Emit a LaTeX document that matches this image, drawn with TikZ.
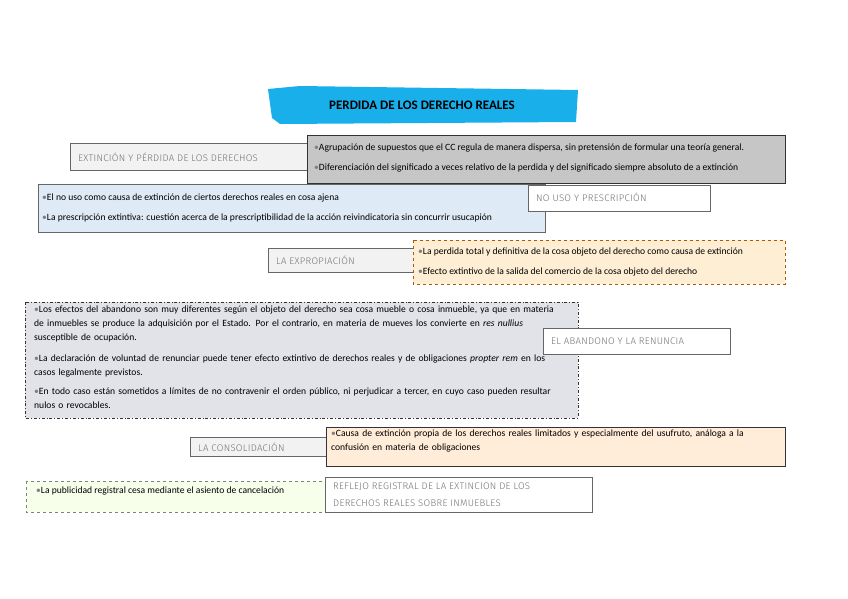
\documentclass[tikz,border=0pt]{standalone}
\usepackage{fontspec}
\setmainfont{Carlito}
\newfontfamily\labfont{Fira Sans Light}
\definecolor{ttl}{RGB}{25,175,235}
\definecolor{lblue}{RGB}{222,234,246}
\newcommand{\bul}{{\color{gray}\textbullet}}
\newcommand{\nohy}{\hyphenpenalty=10000\relax}
\begin{document}
\begin{tikzpicture}[x=1pt,y=-1pt,
  lab/.style={anchor=west,font=\labfont\fontsize{9.6}{17}\selectfont\addfontfeatures{LetterSpace=3},text=gray!90!black,align=left,inner sep=0pt},
  lbox/.style={draw=gray!80!black,line width=0.8pt},
  txt/.style={anchor=west,font=\fontsize{9.6}{14}\selectfont\nohy,inner sep=0pt,align=left},
  ptxt/.style={txt,anchor=north west,text width=#1},
  bx/.style={line width=0.8pt}]
\useasboundingbox (0,0) rectangle (848,599);
% title
\fill[ttl] (268,89) -- (300,86) -- (578,90) -- (576,122) -- (280,124) -- (272,118) -- cycle;
\node[font=\bfseries\fontsize{13}{14}\selectfont] (title) at (422,105) {PERDIDA DE LOS DERECHO REALES};
% row 1
\draw[lbox,fill=gray!10] (70,143) rectangle (310,170);
\node[lab] (l1) at (78,157) {EXTINCIÓN Y PÉRDIDA DE LOS DERECHOS};
\draw[bx,fill=gray!45,draw=black!80] (307,135) rectangle (785,183);
\node[txt] (a1) at (314,148) {\bul Agrupación de supuestos que el CC regula de manera dispersa, sin pretensión de formular una teoría general.};
\node[txt] (a2) at (314,168) {\bul Diferenciación del significado a veces relativo de la perdida y del significado siempre absoluto de a extinción};
% row 2
\draw[bx,fill=lblue,draw=gray!80!black] (38,184) rectangle (545,232);
\node[txt] (b1) at (42,198) {\bul El no uso como causa de extinción de ciertos derechos reales en cosa ajena};
\node[txt] (b2) at (42,218) {\bul La prescripción extintiva: cuestión acerca de la prescriptibilidad de la acción reivindicatoria sin concurrir usucapión};
\draw[lbox,fill=white] (528,185) rectangle (710,211);
\node[lab] (l2) at (536,197) {NO USO Y PRESCRIPCIÓN};
% row 3
\draw[lbox,fill=gray!10] (268,248) rectangle (415,272);
\node[lab] (l3) at (276,260) {LA EXPROPIACIÓN};
\draw[bx,fill=yellow!20!orange!15,draw=orange!70!black,dashed] (413,240) rectangle (785,284);
\node[txt] (c1) at (418,252) {\bul La perdida total y definitiva de la cosa objeto del derecho como causa de extinción};
\node[txt] (c2) at (418,272) {\bul Efecto extintivo de la salida del comercio de la cosa objeto del derecho};
% row 4
\draw[bx,fill=blue!15!gray!20,draw=black!80,dash dot] (25,302) rectangle (578,418);
\node[ptxt=528pt] (d1) at (34,306) {\bul Los efectos del abandono son muy diferentes según el objeto del derecho sea cosa mueble o cosa inmueble, ya que en materia de inmuebles se produce la adquisición por el Estado. Por el contrario, en materia de mueves los convierte en \textit{res nullius} susceptible de ocupación.};
\node[ptxt=528pt] (d2) at (34,355) {\bul La declaración de voluntad de renunciar puede tener efecto extintivo de derechos reales y de obligaciones \textit{propter rem} en los casos legalmente previstos.};
\node[ptxt=528pt] (d3) at (34,388) {\bul En todo caso están sometidos a límites de no contravenir el orden público, ni perjudicar a tercer, en cuyo caso pueden resultar nulos o revocables.};
\draw[lbox,fill=white] (543,328) rectangle (730,354);
\node[lab] (l4) at (551,341) {EL ABANDONO Y LA RENUNCIA};
% row 5
\draw[lbox,fill=gray!10] (190,437) rectangle (330,456);
\node[lab] (l5) at (198,447) {LA CONSOLIDACIÓN};
\draw[bx,fill=orange!15,draw=black!80] (326,427) rectangle (785,466);
\node[ptxt=445pt] (e1) at (331,430) {\bul Causa de extinción propia de los derechos reales limitados y especialmente del usufruto, análoga a la confusión en materia de obligaciones};
% row 6
\draw[bx,fill=green!20!lime!8!white,draw=gray,dashed] (26,481) rectangle (326,512);
\node[txt] (f1) at (36,491) {\bul La publicidad registral cesa mediante el asiento de cancelación};
\draw[lbox,fill=white] (325,477) rectangle (592,512);
\node[lab] (l6) at (333,494.5) {REFLEJO REGISTRAL DE LA EXTINCION DE LOS\\DERECHOS REALES SOBRE INMUEBLES};
\end{tikzpicture}
\end{document}
